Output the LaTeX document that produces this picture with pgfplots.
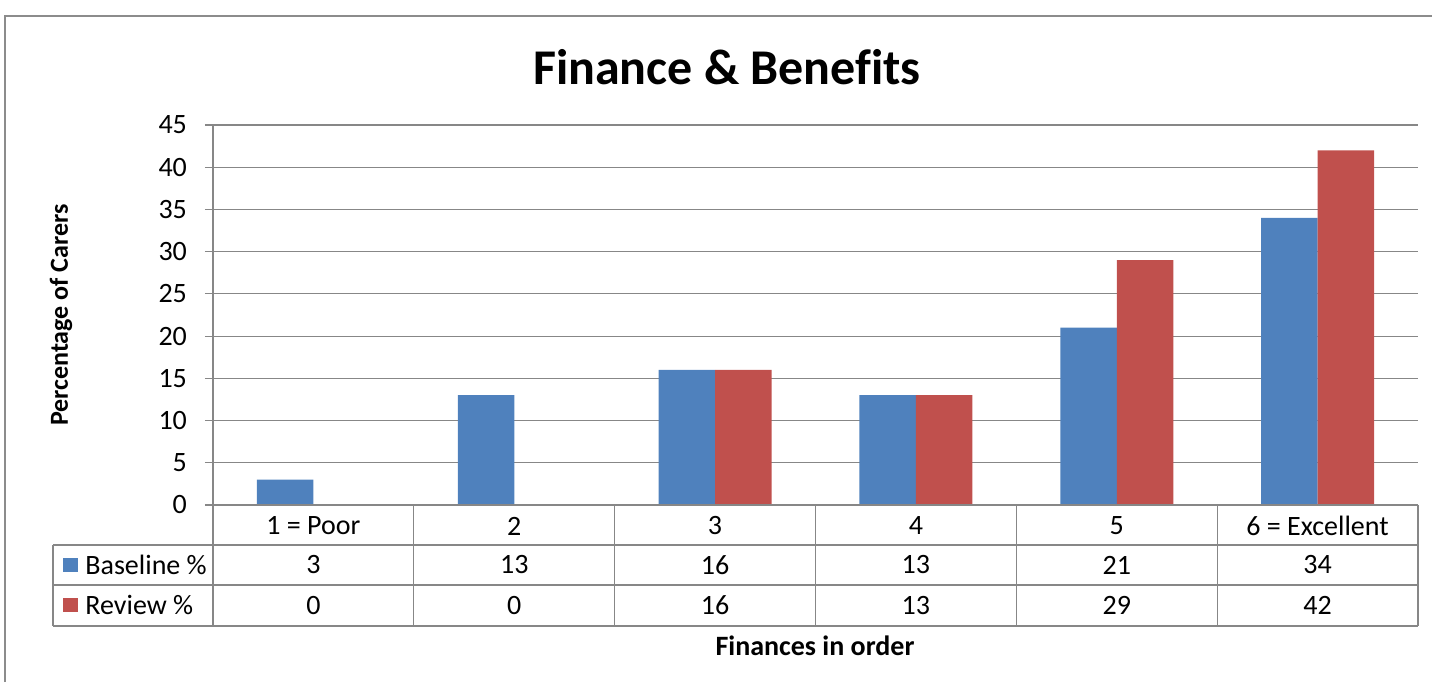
\documentclass[border=0pt]{standalone}
\usepackage{pgfplots}
\pgfplotsset{compat=1.18}
\usepackage{pgfplotstable}
\usepackage{fontspec}
\setmainfont{Carlito}[Ligatures=NoCommon]
\definecolor{barblue}{HTML}{4F81BD}
\definecolor{barred}{HTML}{C0504D}
\definecolor{linegray}{HTML}{878787}
\definecolor{framegray}{HTML}{8C8C8C}

\pgfplotstableread{
x base rev
0 3 0
1 13 0
2 16 16
3 13 13
4 21 29
5 34 42
}\datatable

\newcommand\tfont{\fontsize{14}{17}\selectfont}

\begin{document}
\begin{tikzpicture}[x=0.5pt,y=0.5pt]
\useasboundingbox (0,0) rectangle (1432,682);
\draw[framegray, line width=1pt] (5,0) -- (5,666) -- (1432,666);
\node[font=\fontsize{25}{30}\selectfont\bfseries] at (727,615) {Finance \& Benefits};
\node[font=\fontsize{13}{16}\selectfont\bfseries, rotate=90] at (61,367) {Percentage of Carers};
\node[font=\tfont\bfseries] at (815,36) {Finances in order};
\begin{axis}[at={(106.5pt,88.5pt)}, anchor=south west, scale only axis,
  width=602.5pt, height=190pt,
  xmin=-0.5, xmax=5.5, ymin=0, ymax=45,
  ytick={0,5,...,45}, xtick={0,...,5},
  xticklabels={1 = Poor,2,3,4,5,6 = Excellent},
  axis x line*=bottom, axis y line*=left,
  axis line style={draw=none},
  tick align=outside, major tick length=4pt,
  x tick style={draw=none},
  ytick style={linegray, line width=0.6pt},
  ymajorgrids, grid style={linegray, line width=0.6pt},
  tick label style={font=\tfont},
  /pgf/number format/assume math mode=true,
  xticklabel style={anchor=center, yshift=-6.5pt},
  yticklabel style={xshift=-5.5pt},
  clip=false]
\addplot[ybar, bar width=28.25pt, bar shift=-14.125pt, fill=barblue, draw=none] table[x=x,y=base]{\datatable};
\addplot[ybar, bar width=28.25pt, bar shift=14.125pt, fill=barred, draw=none] table[x=x,y=rev]{\datatable};
\addplot[draw=none, mark=none, nodes near coords, point meta=\thisrow{base},
  every node near coord/.style={anchor=center, font=\tfont, text=black}] table[x=x, y expr=-7.105]{\datatable};
\addplot[draw=none, mark=none, nodes near coords, point meta=\thisrow{rev},
  every node near coord/.style={anchor=center, font=\tfont, text=black}] table[x=x, y expr=-11.9]{\datatable};
\end{axis}
\begin{scope}[linegray, line width=0.6pt]
\draw (213,557) -- (213,56);
\draw (213,177) -- (1418,177);
\draw (53,137) -- (1418,137);
\draw (53,97) -- (1418,97);
\draw (53,56) -- (1418,56);
\draw (53,137) -- (53,56);
\draw (1418,177) -- (1418,56);
\foreach \c in {413.8,614.7,815.5,1016.3,1217.2} {\draw (\c,177) -- (\c,56);}
\end{scope}
\fill[barblue] (63,124) rectangle (78,110);
\fill[barred] (63,84) rectangle (78,70);
\node[font=\tfont, anchor=west, inner sep=0pt] at (85,117) {Baseline \%};
\node[font=\tfont, anchor=west, inner sep=0pt] at (85,77) {Review \%};
\end{tikzpicture}
\end{document}
